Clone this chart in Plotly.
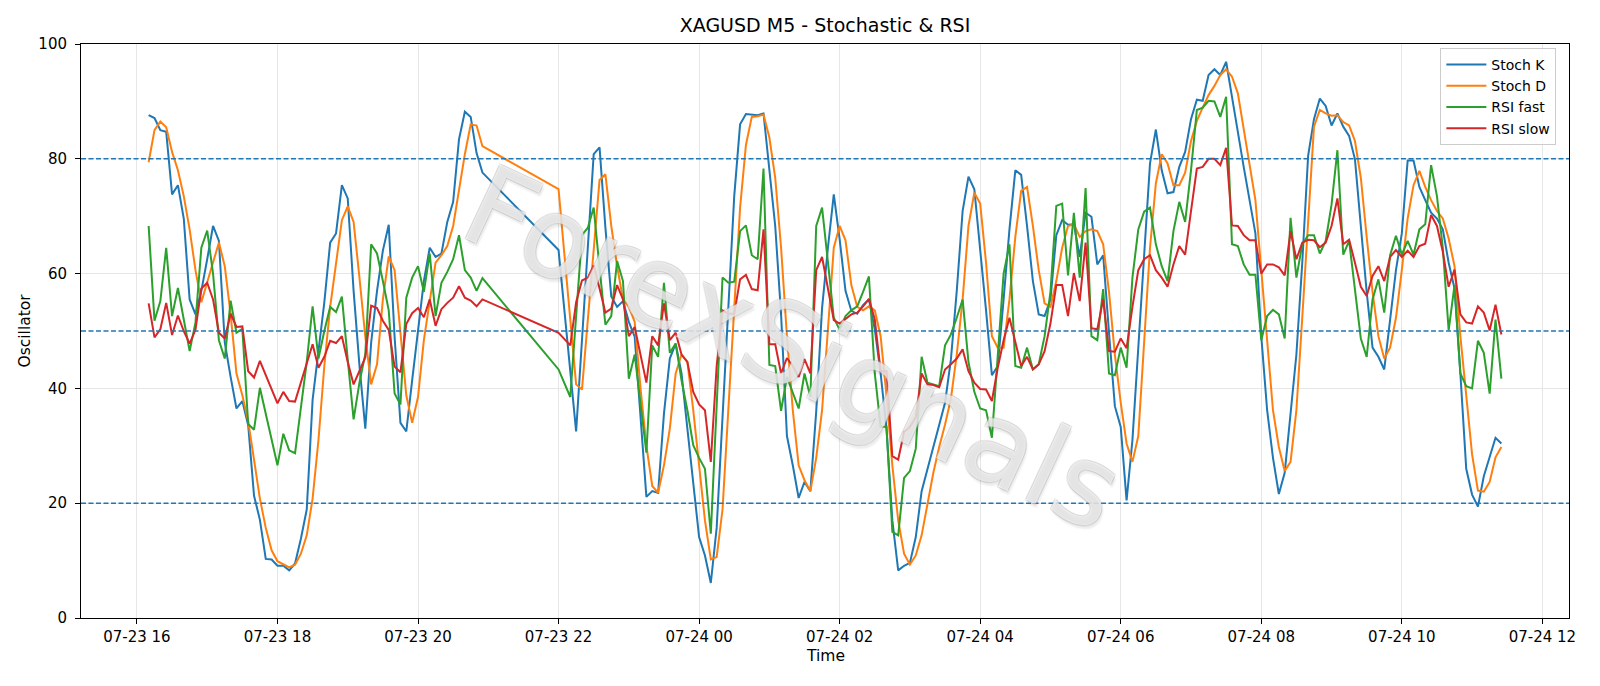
import pandas as pd
import plotly.graph_objects as go

# timestamps: two 5-minute segments (gap between 20:55 and 22:00)
seg1 = pd.date_range("2025-07-23 16:10", "2025-07-23 20:55", freq="5min")
seg2 = pd.date_range("2025-07-23 22:00", "2025-07-24 11:25", freq="5min")
times = list(seg1) + list(seg2)

stoch_k = [
    87.6, 87.1, 85.0, 84.7, 73.8, 75.4, 69.6, 55.5, 52.9, 57.0,
    62.5, 68.3, 65.7, 48.0, 42.0, 36.5, 37.8, 33.6, 21.3, 17.1,
    10.3, 10.2, 9.1, 9.1, 8.3, 9.5, 13.8, 18.9, 38.0, 47.0,
    55.0, 65.4, 67.0, 75.4, 73.1, 57.0, 44.0, 33.0, 48.0, 57.0,
    64.0, 68.5, 49.0, 34.0, 32.5, 41.4, 50.3, 58.7, 64.5, 62.9,
    63.5, 69.0, 72.5, 83.4, 88.2, 87.3, 81.0, 77.6,
    64.1, 53.5, 43.0, 32.5, 48.4, 64.5, 80.8, 82.0, 68.0, 56.0,
    54.2, 55.2, 51.6, 49.0, 35.0, 21.1, 22.1, 21.8, 35.6, 45.2,
    47.8, 42.6, 33.0, 23.4, 14.1, 10.9, 6.1, 15.7, 36.2, 54.2,
    73.5, 86.0, 87.8, 87.7, 87.6, 87.9, 78.6, 68.3, 52.9, 31.7,
    26.6, 20.9, 23.7, 22.1, 36.0, 54.0, 64.5, 73.8, 66.0, 57.0,
    53.5, 53.0, 54.5, 55.5, 50.3, 42.6, 33.0, 17.0, 8.3, 9.1,
    9.6, 14.1, 22.1, 26.0, 29.8, 33.7, 37.5, 45.0, 57.0, 70.9,
    76.9, 74.7, 64.5, 53.6, 42.3, 43.9, 55.5, 67.7, 78.0, 77.2,
    68.3, 58.7, 52.9, 52.6, 55.5, 66.7, 69.3, 68.5, 68.6, 62.9,
    70.6, 69.9, 61.6, 63.2, 49.7, 36.9, 33.3, 20.5, 31.0, 47.8,
    63.2, 79.2, 85.1, 78.0, 74.0, 74.2, 78.6, 81.2, 86.9, 90.3,
    90.1, 94.6, 95.6, 94.6, 96.9, 90.8, 84.4, 78.6, 72.8, 67.0,
    49.1, 36.2, 27.9, 21.6, 25.3, 36.2, 45.9, 61.9, 80.5, 86.9,
    90.5, 89.2, 85.8, 87.9, 85.6, 84.0, 79.9, 68.3, 56.8, 47.1,
    45.5, 43.3, 52.3, 60.6, 67.0, 79.7, 79.7, 75.1, 72.8, 70.6,
    69.6, 67.7, 61.9, 57.4, 42.6, 26.0, 21.5, 19.4, 24.7, 28.2,
    31.4, 30.4,
]

stoch_d = [
    79.4, 85.0, 86.5, 85.5, 81.2, 78.0, 73.5, 67.7, 60.6, 55.0,
    58.5, 62.0, 65.4, 61.3, 52.9, 42.6, 38.8, 34.3, 27.9, 20.8,
    15.7, 11.8, 9.9, 9.4, 8.8, 9.3, 11.2, 14.4, 20.8, 31.0,
    43.9, 54.2, 61.9, 69.3, 71.7, 69.0, 59.3, 49.0, 40.7, 44.2,
    55.5, 63.0, 60.6, 49.7, 38.8, 34.0, 38.5, 48.4, 55.5, 61.9,
    63.2, 64.8, 68.3, 74.7, 80.8, 86.0, 85.8, 82.2,
    74.7, 63.3, 52.0, 40.7, 39.8, 51.6, 64.5, 76.3, 77.3, 68.3,
    61.3, 55.5, 54.2, 51.6, 40.0, 30.0, 23.0, 21.8, 26.6, 33.0,
    42.6, 45.9, 44.6, 36.2, 26.6, 17.0, 10.2, 10.6, 18.9, 36.2,
    55.5, 71.5, 82.4, 87.3, 87.4, 87.7, 83.7, 76.7, 64.5, 49.1,
    36.2, 26.6, 24.0, 22.1, 27.9, 36.2, 50.3, 64.5, 68.3, 65.8,
    58.0, 54.2, 53.6, 54.3, 53.6, 49.1, 38.8, 26.6, 17.0, 11.2,
    9.3, 10.9, 14.4, 20.2, 25.3, 29.8, 33.7, 38.2, 45.9, 55.5,
    68.3, 74.1, 72.2, 61.9, 49.1, 47.1, 47.1, 55.5, 66.4, 74.4,
    75.1, 68.3, 60.6, 54.8, 54.2, 58.7, 64.5, 68.3, 68.6, 66.4,
    67.4, 67.7, 67.4, 65.1, 56.8, 45.9, 37.5, 30.4, 27.2, 31.7,
    49.1, 64.5, 75.7, 80.8, 79.2, 75.4, 75.4, 77.6, 83.1, 86.6,
    88.9, 91.1, 92.7, 94.6, 95.6, 94.3, 91.4, 85.0, 79.2, 72.8,
    60.6, 47.8, 36.2, 29.8, 25.6, 27.2, 36.2, 52.3, 69.6, 85.6,
    88.5, 87.9, 87.5, 87.6, 86.4, 85.8, 83.1, 76.7, 66.4, 56.8,
    49.1, 45.2, 47.1, 52.3, 60.6, 69.6, 75.4, 77.9, 75.1, 72.8,
    70.9, 69.6, 66.1, 61.3, 49.1, 38.2, 28.5, 22.2, 22.0, 23.7,
    28.0, 29.8,
]

rsi_fast = [
    68.3, 51.8, 55.2, 64.5, 52.6, 57.5, 52.0, 46.5, 51.5, 64.5,
    67.5, 60.0, 48.4, 45.2, 55.3, 49.7, 50.4, 33.8, 32.8, 40.1,
    35.6, 31.1, 26.6, 32.1, 29.2, 28.7, 37.0, 44.6, 54.3, 45.2,
    50.0, 54.2, 53.3, 56.0, 45.0, 34.6, 41.0, 46.0, 65.1, 63.5,
    58.7, 53.6, 39.1, 37.2, 55.8, 59.3, 61.3, 56.8, 63.5, 52.6,
    58.4, 60.3, 62.5, 66.7, 60.6, 59.3, 57.0, 59.2,
    43.3, 41.0, 38.5, 52.6, 66.7, 68.0, 71.5, 61.0, 51.1, 52.6,
    62.2, 58.7, 41.7, 45.9, 37.0, 28.8, 47.5, 45.5, 58.4, 46.2,
    47.8, 41.4, 36.2, 30.1, 27.9, 26.0, 14.7, 36.2, 59.3, 58.4,
    58.6, 67.4, 68.4, 63.2, 62.5, 78.3, 44.1, 43.9, 36.1, 42.0,
    39.4, 36.5, 42.6, 38.5, 68.3, 71.5, 62.0, 52.3, 50.2, 52.6,
    53.6, 54.3, 56.8, 59.5, 42.6, 33.3, 33.3, 15.0, 14.4, 24.4,
    25.6, 29.5, 45.5, 41.0, 40.7, 40.4, 47.5, 49.4, 52.3, 55.5,
    44.6, 39.4, 36.5, 36.2, 31.4, 45.9, 60.0, 65.1, 43.9, 43.6,
    47.1, 43.3, 44.2, 49.1, 56.8, 71.8, 72.2, 59.7, 70.6, 59.3,
    74.9, 49.1, 48.4, 57.3, 42.6, 42.3, 47.1, 43.6, 59.3, 67.7,
    70.8, 71.5, 65.1, 61.3, 58.7, 67.4, 72.5, 69.0, 78.0, 88.5,
    88.9, 90.1, 90.0, 87.3, 90.8, 65.1, 64.8, 61.6, 59.8, 59.8,
    48.4, 52.6, 53.7, 52.9, 48.7, 69.7, 59.3, 65.1, 66.7, 66.7,
    63.5, 65.7, 72.0, 81.5, 63.3, 65.7, 56.8, 48.7, 45.5, 55.5,
    59.0, 53.2, 63.2, 66.6, 63.3, 65.7, 63.3, 67.7, 68.6, 78.9,
    73.5, 64.5, 50.1, 58.0, 42.6, 40.4, 40.0, 48.3, 46.2, 39.1,
    52.0, 41.7,
]

rsi_slow = [
    54.8, 48.9, 50.3, 54.9, 49.3, 52.7, 50.0, 47.8, 50.2, 57.4,
    58.4, 55.5, 49.7, 48.7, 53.0, 50.7, 50.8, 43.0, 41.9, 44.8,
    42.3, 39.8, 37.4, 39.4, 37.8, 37.7, 41.0, 44.2, 47.7, 43.6,
    45.5, 48.3, 47.9, 49.1, 44.6, 40.7, 43.2, 45.4, 54.4, 54.0,
    51.8, 50.2, 43.8, 42.8, 51.2, 53.1, 54.0, 52.4, 55.5, 50.9,
    53.8, 54.9, 55.8, 57.8, 55.8, 55.3, 54.3, 55.5,
    49.7, 48.5, 47.5, 55.0, 58.8, 59.3, 61.4, 57.4, 53.2, 53.9,
    58.0, 55.5, 49.1, 50.7, 45.9, 41.0, 49.1, 47.5, 54.8, 48.4,
    49.7, 45.9, 44.6, 39.4, 37.2, 36.2, 27.2, 43.9, 53.6, 53.0,
    53.0, 59.0, 59.8, 57.3, 57.1, 67.7, 47.7, 47.7, 42.6, 45.3,
    43.9, 42.0, 45.1, 42.6, 60.6, 62.9, 57.4, 51.9, 51.3, 52.1,
    52.9, 53.2, 54.3, 55.6, 52.0, 43.0, 43.0, 28.2, 27.6, 32.4,
    33.3, 35.0, 42.6, 40.7, 40.6, 40.2, 43.3, 44.2, 45.2, 46.8,
    43.0, 41.0, 39.9, 39.8, 37.8, 43.6, 48.4, 52.3, 48.1, 43.9,
    45.5, 43.3, 44.2, 46.5, 51.3, 58.0, 58.0, 52.6, 60.1, 55.2,
    65.4, 50.5, 50.3, 55.5, 46.5, 46.4, 48.7, 47.0, 54.2, 60.6,
    62.5, 63.2, 60.6, 59.3, 57.7, 61.6, 64.8, 63.3, 70.9, 78.3,
    78.6, 80.0, 80.0, 78.9, 81.9, 68.4, 68.3, 66.7, 65.8, 65.8,
    60.0, 61.6, 61.6, 61.1, 59.7, 67.4, 62.5, 65.4, 65.9, 65.8,
    64.6, 65.4, 68.3, 73.1, 65.1, 65.9, 61.9, 57.7, 56.1, 59.6,
    61.3, 58.7, 62.9, 64.1, 62.9, 64.0, 62.9, 64.8, 65.2, 70.2,
    68.3, 63.8, 57.7, 60.7, 52.9, 51.5, 51.3, 54.3, 53.2, 50.1,
    54.6, 49.4,
]

levels = [20, 50, 80]
y_ticks = [0, 20, 40, 60, 80, 100]

FONT = "DejaVu Sans"
series = [
    ("Stoch K", stoch_k, "#1f77b4"),
    ("Stoch D", stoch_d, "#ff7f0e"),
    ("RSI fast", rsi_fast, "#2ca02c"),
    ("RSI slow", rsi_slow, "#d62728"),
]

fig = go.Figure()
for name, vals, col in series:
    fig.add_trace(go.Scatter(x=times, y=vals, mode="lines", name=name,
                             line=dict(color=col, width=2)))

for lv in levels:
    fig.add_shape(type="line", xref="paper", x0=0, x1=1, yref="y", y0=lv, y1=lv,
                  line=dict(color="#1f77b4", width=1.4, dash="5px,2.5px"), layer="above")

fig.update_layout(
    width=1600, height=686,
    margin=dict(l=81, r=31, t=44, b=68),
    paper_bgcolor="white", plot_bgcolor="white",
    font=dict(family=FONT, size=15, color="black"),
    title=dict(text="XAGUSD M5 - Stochastic & RSI", x=0.5, xref="paper", xanchor="center",
               y=1 - 25.5 / 686, yref="container", yanchor="middle",
               font=dict(family=FONT, size=19, color="black")),
    showlegend=True,
    legend=dict(x=0.9915, xanchor="right", y=0.993, yanchor="top",
                bgcolor="rgba(255,255,255,0.8)", bordercolor="#cccccc", borderwidth=1,
                font=dict(family=FONT, size=14, color="black"), tracegroupgap=0,
                itemwidth=40),
    hovermode=False,
)

fig.update_xaxes(
    type="date",
    range=["2025-07-23 15:12:15", "2025-07-24 12:22:45"],
    tick0="2025-07-23 00:00", dtick=2 * 3600 * 1000, tickformat="%m-%d %H",
    showgrid=True, gridcolor="#e6e6e6", gridwidth=1,
    showline=True, linecolor="black", linewidth=1, mirror=True,
    ticks="outside", ticklen=5, tickcolor="black", tickwidth=1,
    tickfont=dict(family=FONT, size=15, color="black"), zeroline=False,
)
fig.update_yaxes(
    range=[0, 100], tickvals=y_ticks,
    showgrid=True, gridcolor="#e6e6e6", gridwidth=1,
    showline=True, linecolor="black", linewidth=1, mirror=True,
    ticks="outside", ticklen=5, tickcolor="black", tickwidth=1, ticklabelstandoff=5,
    tickfont=dict(family=FONT, size=15, color="black"), zeroline=False,
)

fig.add_annotation(text="Time", xref="paper", yref="paper", x=0.5, y=-(656 - 618) / 574,
                   xanchor="center", yanchor="middle", showarrow=False,
                   font=dict(family=FONT, size=15.5, color="black"))
fig.add_annotation(text="Oscillator", xref="paper", yref="paper", x=(24.5 - 81) / 1488, y=0.5,
                   xanchor="center", yanchor="middle", showarrow=False, textangle=-90,
                   font=dict(family=FONT, size=15.5, color="black"))
# watermark: translucent white glyphs with faint grey outline/shadow
OUT = "rgba(170,170,170,0.45)"
fig.add_annotation(text="ForexSignals", xref="paper", yref="paper",
                   x=(793 - 81) / 1488, y=(618 - 348) / 574,
                   xanchor="center", yanchor="middle", showarrow=False, textangle=25,
                   font=dict(family=FONT, size=112, color="rgba(255,255,255,0.6)",
                             shadow=f"-1px -1px 0 {OUT}, 1px -1px 0 {OUT}, "
                                    f"-1px 1px 0 {OUT}, 1px 1px 0 {OUT}, "
                                    "3px 3px 2px rgba(0,0,0,0.12)"))

fig.write_html("out.html")
